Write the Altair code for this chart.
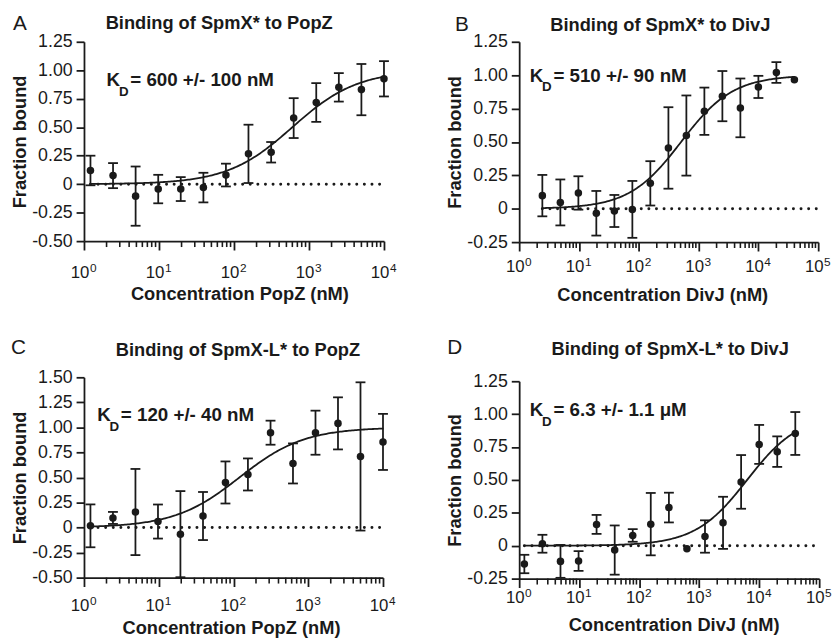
import altair as alt
import pandas as pd
import math

FONT = "Liberation Sans"
INK = "#1a1a1a"

# ---------------- data ----------------
conc_A = [1.22, 2.44, 4.88, 9.77, 19.5, 39.1, 78.1, 156, 313, 625, 1250, 2500, 5000, 10000]
frac_A = [0.12, 0.075, -0.105, -0.043, -0.043, -0.03, 0.08, 0.266, 0.28, 0.58, 0.717, 0.85, 0.83, 0.925]
err_A = [0.13, 0.11, 0.26, 0.125, 0.105, 0.13, 0.10, 0.256, 0.09, 0.175, 0.17, 0.125, 0.225, 0.155]

conc_B = [2.44, 4.88, 9.77, 19.5, 39.1, 78.1, 156, 313, 625, 1250, 2500, 5000, 10000, 20000, 40000]
frac_B = [0.098, 0.047, 0.118, -0.034, -0.017, -0.005, 0.19, 0.455, 0.548, 0.73, 0.843, 0.755, 0.912, 1.02, 0.966]
err_B = [0.155, 0.172, 0.125, 0.167, 0.12, 0.213, 0.166, 0.305, 0.30, 0.177, 0.188, 0.22, 0.083, 0.077, 0.0]

conc_C = [1.22, 2.44, 4.88, 9.77, 19.5, 39.1, 78.1, 156, 313, 625, 1250, 2500, 5000, 10000]
frac_C = [0.017, 0.096, 0.155, 0.06, -0.066, 0.115, 0.45, 0.53, 0.947, 0.64, 0.947, 1.04, 0.71, 0.855]
err_C = [0.214, 0.06, 0.43, 0.17, 0.43, 0.24, 0.21, 0.16, 0.12, 0.20, 0.22, 0.26, 0.74, 0.28]

conc_D = [1.22, 2.44, 4.88, 9.77, 19.5, 39.1, 78.1, 156, 313, 625, 1250, 2500, 5000, 10000, 20000, 40000]
frac_D = [-0.139, 0.015, -0.119, -0.116, 0.162, -0.033, 0.078, 0.164, 0.29, -0.023, 0.07, 0.174, 0.485, 0.77, 0.715, 0.853]
err_D = [0.07, 0.068, 0.125, 0.075, 0.072, 0.187, 0.048, 0.237, 0.113, 0.0, 0.123, 0.198, 0.204, 0.148, 0.116, 0.163]

# fitted dissociation constants (nM) shown in each panel
kd_values = [600, 510, 120, 6300]
kd_labels = ["= 600 +/- 100 nM", "= 510 +/- 90 nM", "= 120 +/- 40 nM", "= 6.3 +/- 1.1 \u03bcM"]
titles = ["Binding of SpmX* to PopZ", "Binding of SpmX* to DivJ",
          "Binding of SpmX-L* to PopZ", "Binding of SpmX-L* to DivJ"]
letters = ["A", "B", "C", "D"]
x_titles = ["Concentration PopZ (nM)", "Concentration DivJ (nM)",
            "Concentration PopZ (nM)", "Concentration DivJ (nM)"]

y_ticks_A = [-0.5, -0.25, 0, 0.25, 0.5, 0.75, 1.0, 1.25]
y_ticks_B = [-0.25, 0, 0.25, 0.5, 0.75, 1.0, 1.25]
y_ticks_C = [-0.5, -0.25, 0, 0.25, 0.5, 0.75, 1.0, 1.25, 1.5]
y_ticks_D = [-0.25, 0, 0.25, 0.5, 0.75, 1.0, 1.25]
x_major_4 = [1, 10, 100, 1000, 10000]
x_major_5 = [1, 10, 100, 1000, 10000, 100000]
x_exponents_4 = ["0", "1", "2", "3", "4"]
x_exponents_5 = ["0", "1", "2", "3", "4", "5"]

BOLD = 18.5
Y_LABEL_EXPR = ("datum.value == 0 ? '0' : (datum.value < 0 ? '-' + format(-datum.value, '.2f') "
                ": format(datum.value, '.2f'))")


def panel(i, conc, frac, err, xmajor, xexp, yticks, width, height,
          title_pos, letter_pos, ann_xy, xlab_base, xtitle_pos):
    xmax = xmajor[-1]
    ndec = len(xmajor) - 1
    xscale = alt.Scale(type="log", domain=[1, xmax], nice=False)
    yscale = alt.Scale(domain=[yticks[0], yticks[-1]], nice=False, zero=False)
    xaxis = alt.Axis(values=xmajor, labels=False, tickSize=9, tickWidth=1.8,
                     domainWidth=1.8, title=None, grid=False)
    yaxis = alt.Axis(values=yticks, labelExpr=Y_LABEL_EXPR, tickSize=8, tickWidth=1.8,
                     domainWidth=1.8, labelFontSize=18, labelPadding=4,
                     title="Fraction bound", titleFontSize=BOLD, titleFontWeight="bold",
                     titlePadding=2.5, grid=False)

    def X(field):
        return alt.X(field, type="quantitative", scale=xscale, axis=xaxis)

    def Y(field):
        return alt.Y(field, type="quantitative", scale=yscale, axis=yaxis)

    df = pd.DataFrame({"x": conc, "y": frac, "e": err})
    df["lo"] = df["y"] - df["e"]
    df["hi"] = df["y"] + df["e"]
    dfe = df[df["e"] > 0]
    caps = pd.concat([
        pd.DataFrame({"x": dfe["x"], "y": dfe["lo"]}),
        pd.DataFrame({"x": dfe["x"], "y": dfe["hi"]}),
    ])

    zero = alt.Chart(pd.DataFrame({"x": [conc[0]], "x2": [xmax], "y": [0.0]})).mark_rule(
        strokeDash=[0.01, 7.7], strokeCap="round", strokeWidth=3, color=INK
    ).encode(x=X("x"), x2="x2:Q", y=Y("y"))

    lo = math.log10(conc[0])
    hi = math.log10(conc[-1])
    kd = kd_values[i]
    curve = alt.Chart(alt.sequence(lo, hi + 0.01, 0.02, as_="lx")).transform_calculate(
        x="pow(10, datum.lx)"
    ).transform_calculate(
        y=f"datum.x / ({kd} + datum.x)"
    ).mark_line(strokeWidth=1.8, color=INK).encode(x=X("x"), y=Y("y"))

    bars = alt.Chart(dfe).mark_rule(strokeWidth=1.8, color=INK).encode(
        x=X("x"), y=Y("lo"), y2="hi:Q")
    capm = alt.Chart(caps).mark_tick(orient="horizontal", size=10, thickness=1.8,
                                     color=INK, opacity=1).encode(x=X("x"), y=Y("y"))
    pts = alt.Chart(df).mark_circle(size=58, color=INK, opacity=1).encode(x=X("x"), y=Y("y"))

    minor = [m * 10 ** e for e in range(ndec) for m in range(2, 10)]
    mticks = alt.Chart(pd.DataFrame({"x": minor})).mark_rule(strokeWidth=1.6, color=INK).encode(
        x=X("x"), y=alt.value(height), y2=alt.value(height + 6))

    # x tick labels: "10" with a superscript exponent
    lab_df = pd.DataFrame({"x": xmajor, "b": ["10"] * len(xmajor), "p": xexp})
    lab_base = alt.Chart(lab_df).mark_text(
        align="right", baseline="alphabetic", fontSize=17, font=FONT, color=INK, dx=5.5
    ).encode(x=X("x"), y=alt.value(height + xlab_base), text="b:N")
    lab_sup = alt.Chart(lab_df).mark_text(
        align="left", baseline="alphabetic", fontSize=12, font=FONT, color=INK, dx=6
    ).encode(x=X("x"), y=alt.value(height + xlab_base - 6), text="p:N")

    one = pd.DataFrame({"t": [letters[i]], "h": [titles[i]], "xt": [x_titles[i]]})
    letter = alt.Chart(one).mark_text(
        align="left", baseline="alphabetic", fontSize=21, font=FONT, color=INK
    ).encode(text="t:N", x=alt.value(letter_pos[0]), y=alt.value(letter_pos[1]))
    title = alt.Chart(one).mark_text(
        align="center", baseline="alphabetic", fontSize=BOLD, fontWeight="bold", font=FONT, color=INK
    ).encode(text="h:N", x=alt.value(title_pos[0]), y=alt.value(title_pos[1]))
    xtitle = alt.Chart(one).mark_text(
        align="center", baseline="alphabetic", fontSize=BOLD, fontWeight="bold", font=FONT, color=INK
    ).encode(text="xt:N", x=alt.value(width / 2 + xtitle_pos[0]),
             y=alt.value(height + xtitle_pos[1]))

    ann_df = pd.DataFrame({"x": [ann_xy[0]], "y": [ann_xy[1]], "k": ["K"], "d": ["D"],
                           "r": [kd_labels[i]]})
    base = alt.Chart(ann_df)
    kt = base.mark_text(align="left", baseline="alphabetic", fontSize=19, fontWeight="bold",
                        font=FONT, color=INK).encode(x=X("x"), y=Y("y"), text="k:N")
    dt = base.mark_text(align="left", baseline="alphabetic", fontSize=13.5, fontWeight="bold",
                        font=FONT, color=INK, dx=12.5, dy=10).encode(x=X("x"), y=Y("y"), text="d:N")
    rt = base.mark_text(align="left", baseline="alphabetic", fontSize=19, fontWeight="bold",
                        font=FONT, color=INK, dx=24).encode(x=X("x"), y=Y("y"), text="r:N")

    return alt.layer(zero, curve, bars, capm, pts, mticks, lab_base, lab_sup,
                     letter, title, xtitle, kt, dt, rt).properties(width=width, height=height)


pA = panel(0, conc_A, frac_A, err_A, x_major_4, x_exponents_4, y_ticks_A, 304, 202,
           (137, -13), (-72, -12), (2.0, 0.862), 37, (6, 60))
pB = panel(1, conc_B, frac_B, err_B, x_major_5, x_exponents_5, y_ticks_B, 303, 203,
           (143, -11), (-65, -11), (1.5, 0.952), 30, (-6, 60))
pC = panel(2, conc_C, frac_C, err_C, x_major_4, x_exponents_4, y_ticks_C, 303, 203,
           (156, -22), (-74, -24), (1.5, 1.063), 34, (-2, 57))
pD = panel(3, conc_D, frac_D, err_D, x_major_5, x_exponents_5, y_ticks_D, 304, 200,
           (153, -27), (-73, -28), (1.5, 0.987), 25, (5, 53))

chart = alt.concat(pA, pB, pC, pD, columns=2, align="none",
                   spacing={"row": 32, "column": 49}).properties(
    padding={"left": 2, "top": 1, "right": 0, "bottom": 0}
).configure_view(stroke=None).configure_axis(
    labelFont=FONT, titleFont=FONT, labelColor=INK, titleColor=INK,
    domainColor=INK, tickColor=INK
)

chart.save("out.html", embed_options={"renderer": "svg", "actions": False})
